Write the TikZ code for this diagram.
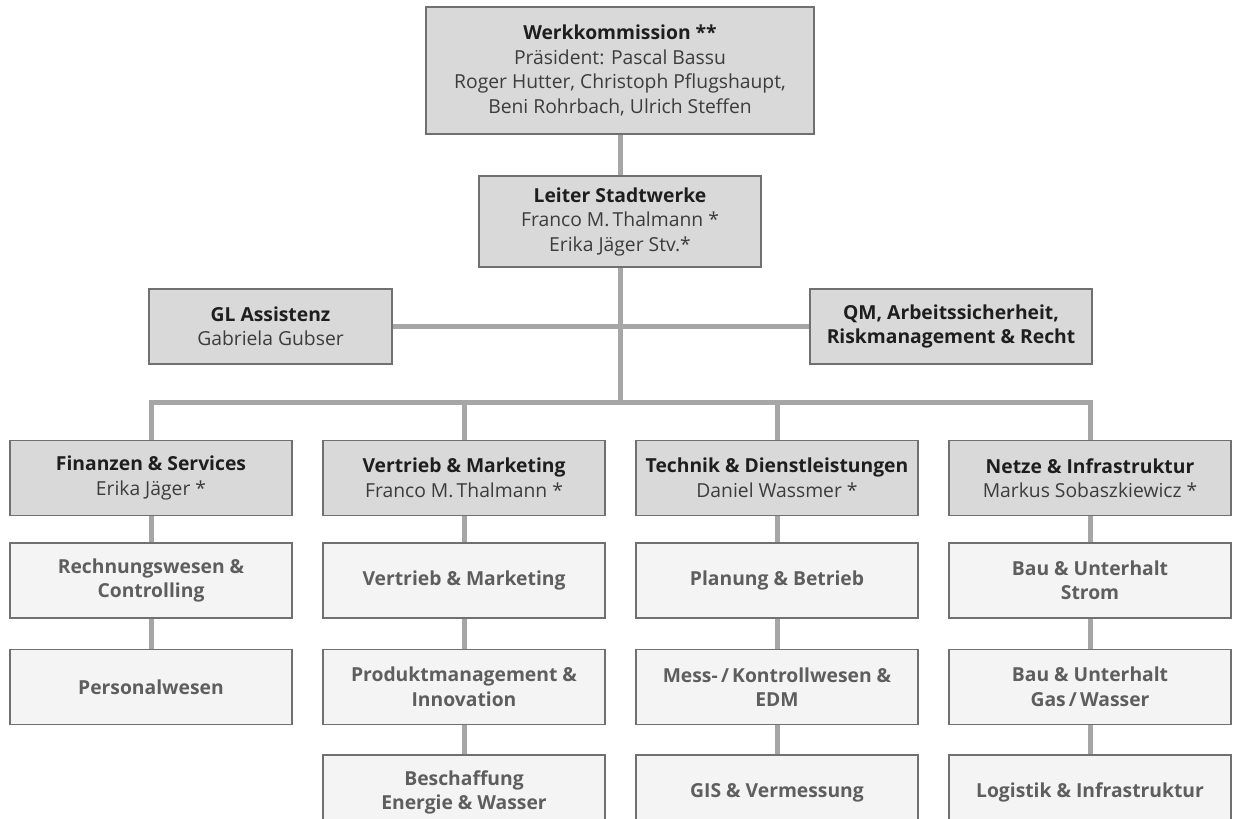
\documentclass[tikz,border=0pt]{standalone}
\usepackage{fontspec}
\setmainfont{Open Sans}
\usepackage{xcolor}
\usepackage{tikz}
\usetikzlibrary{positioning}
\definecolor{headfill}{HTML}{D9D9D9}
\definecolor{unitfill}{HTML}{F4F4F4}
\definecolor{boxrule}{HTML}{707070}
\definecolor{linkgray}{HTML}{A6A6A6}
\definecolor{headtext}{HTML}{1E1E1E}
\definecolor{nametext}{HTML}{3C3C3C}
\definecolor{unittext}{HTML}{5E5E5E}
\newcommand{\hd}[1]{{\bfseries\color{headtext}#1}}

\begin{document}
\begin{tikzpicture}[
 x=1pt,y=-1pt,
 node distance=26pt,
 box/.style={draw=boxrule,line width=1.5pt,align=center,inner sep=0pt,minimum width=282pt,minimum height=75pt,font=\fontsize{19.3}{24.5}\selectfont},
 head/.style={box,fill=headfill,text=nametext},
 unit/.style={box,fill=unitfill,text=unittext,font=\fontsize{19.3}{24.5}\selectfont\bfseries},
 link/.style={draw=linkgray,line width=5pt},
]
\clip (0,0) rectangle (1237,819);
% top of the organisation
\node[head,minimum width=388pt,minimum height=127pt] (wk) at (620,70.5) {\hd{Werkkommission **}\\Präsident: Pascal Bassu\\Roger Hutter, Christoph Pflugshaupt,\\Beni Rohrbach, Ulrich Steffen};
\node[head,minimum height=91pt] (lst) at (620,221.5) {\hd{Leiter Stadtwerke}\\Franco M.\,Thalmann *\\Erika Jäger Stv.*};
\node[head,minimum width=243pt] (gl) at (270.5,326.5) {\hd{GL Assistenz}\\Gabriela Gubser};
\node[head] (qm) at (951,326.5) {\hd{QM, Arbeitssicherheit,}\\\hd{Riskmanagement \& Recht}};
\coordinate (bus) at (620,402);

% departments
\node[head] (fin) at (151,478) {\hd{Finanzen \& Services}\\Erika Jäger *};
\node[head] (ver) at (464,478) {\hd{Vertrieb \& Marketing}\\Franco M.\,Thalmann *};
\node[head] (tec) at (777,478) {\hd{Technik \& Dienstleistungen}\\Daniel Wassmer *};
\node[head] (net) at (1090,478) {\hd{Netze \& Infrastruktur}\\Markus Sobaszkiewicz *};

% units
\node[unit,below=of fin] (fin1) {Rechnungswesen \&\\Controlling};
\node[unit,below=30pt of fin1] (fin2) {Personalwesen};
\node[unit,below=of ver] (ver1) {Vertrieb \& Marketing};
\node[unit,below=30pt of ver1] (ver2) {Produktmanagement \&\\Innovation};
\node[unit,below=29pt of ver2] (ver3) {Beschaffung\\Energie \& Wasser};
\node[unit,below=of tec] (tec1) {Planung \& Betrieb};
\node[unit,below=30pt of tec1] (tec2) {Mess-\,/\,Kontrollwesen \&\\EDM};
\node[unit,below=29pt of tec2] (tec3) {GIS \& Vermessung};
\node[unit,below=of net] (net1) {Bau \& Unterhalt\\Strom};
\node[unit,below=30pt of net1] (net2) {Bau \& Unterhalt\\Gas\,/\,Wasser};
\node[unit,below=29pt of net2] (net3) {Logistik \& Infrastruktur};

% connectors
\draw[link] (wk.south) -- (lst.north);
\draw[link] (lst.south) -- (bus);
\draw[link] (gl.east) -- (qm.west);
\draw[link] (fin.north) |- (bus) -| (net.north);
\draw[link] (ver.north) -- (ver.north |- bus);
\draw[link] (tec.north) -- (tec.north |- bus);
\draw[link] (fin.south) -- (fin1.north);
\draw[link] (fin1.south) -- (fin2.north);
\draw[link] (ver.south) -- (ver1.north);
\draw[link] (ver1.south) -- (ver2.north);
\draw[link] (ver2.south) -- (ver3.north);
\draw[link] (tec.south) -- (tec1.north);
\draw[link] (tec1.south) -- (tec2.north);
\draw[link] (tec2.south) -- (tec3.north);
\draw[link] (net.south) -- (net1.north);
\draw[link] (net1.south) -- (net2.north);
\draw[link] (net2.south) -- (net3.north);
\end{tikzpicture}
\end{document}
